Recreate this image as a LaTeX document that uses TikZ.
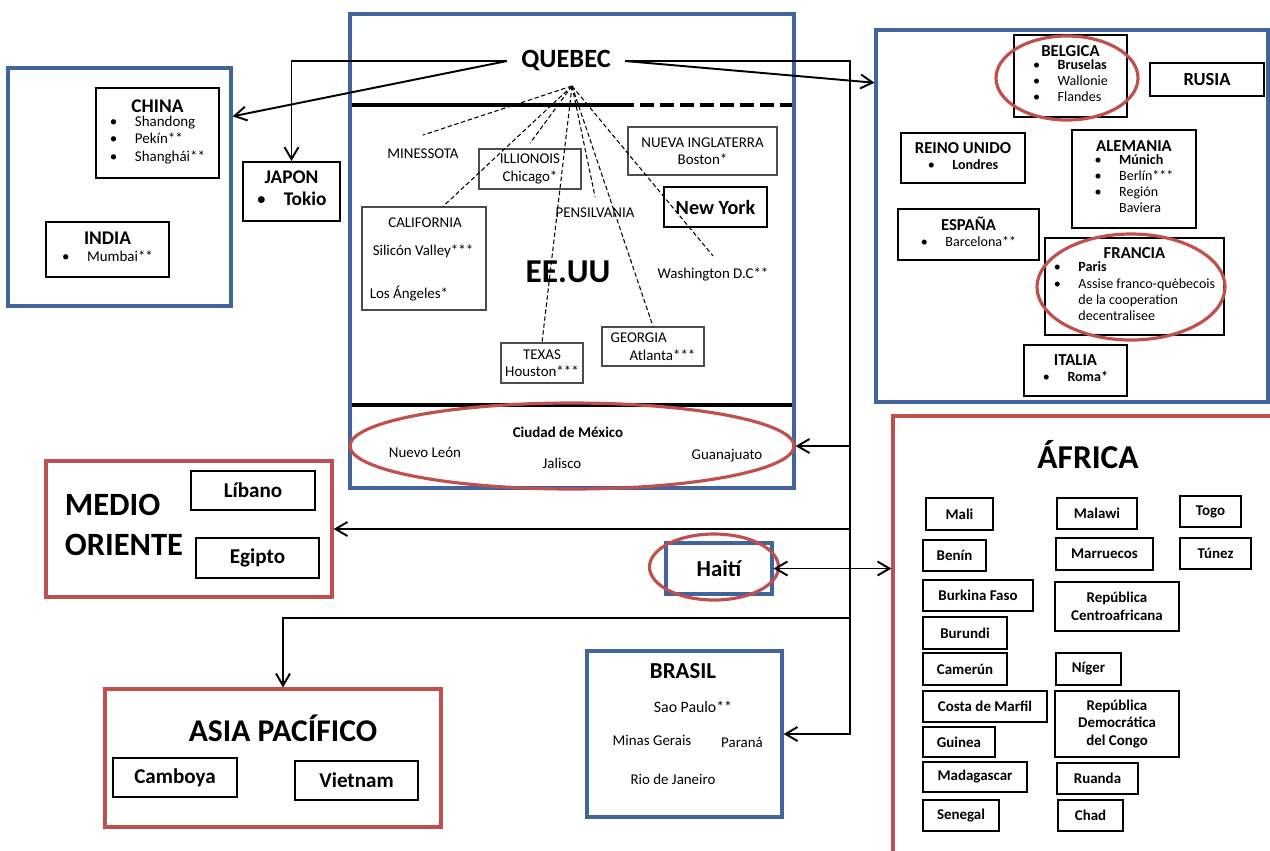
\documentclass[tikz,border=0pt]{standalone}
\usepackage{fontspec}
\setmainfont{Carlito}
\usetikzlibrary{arrows.meta, shapes.geometric}
\definecolor{regblue}{RGB}{64,100,155}
\definecolor{regred}{RGB}{192,80,77}
\newcommand{\blist}[1]{\begin{tabular}{@{}l@{\hspace{10pt}}l@{}}#1\end{tabular}}
\newcommand{\ttl}[2][10]{{\fontsize{#1}{12}\selectfont\bfseries #2}}

\begin{document}
\begin{tikzpicture}[x=0.02cm,y=-0.02cm,font=\fontsize{8.5}{10}\selectfont]
		\tikzset{sz/.style 2 args={minimum width=#1*0.02cm,minimum height=#2*0.02cm},
			bluebox/.style={draw=regblue,line width=1.8pt,inner sep=0pt},
			redbox/.style={draw=regred,line width=1.8pt,inner sep=0pt},
			cbox/.style={draw,line width=1.1pt,inner sep=0pt,align=center},
			abox/.style={cbox,font=\fontsize{8.5}{10}\selectfont\bfseries},
			eubox/.style={cbox,font=\fontsize{8}{9.2}\selectfont},
			sbox/.style={draw=black!70,line width=0.6pt,inner sep=0pt,align=center},
			ring/.style={ellipse,draw=regred,line width=1.8pt,inner sep=0pt},
			conn/.style={line width=1.1pt,-{Straight Barb[length=2.4mm,width=2.8mm]}},
			dline/.style={line width=0.6pt,dash pattern=on 2.5pt off 1.5pt},
			divider/.style={line width=2.8pt}}
		\useasboundingbox (0,0) rectangle (1270,850);
		
		% Asia
		\node[bluebox,sz={223}{238}] (asia) at (119.5,187) {};
		\node[cbox,sz={123}{90}] (china) at (157.5,133) {\ttl[11]{CHINA}\\\blist{\textbullet & Shandong\\ \textbullet & Pekín**\\ \textbullet & Shanghái**}};
		\node[cbox,sz={123}{55}] (india) at (107.5,249.5) {\ttl[11]{INDIA}\\\blist{\textbullet & Mumbai**}};
		\node[cbox,sz={97}{59},font=\fontsize{11}{13}\selectfont\bfseries] (japon) at (291.5,191.5) {JAPON\\\blist{{\mdseries\textbullet} & Tokio}};
		
		% EE.UU y Mexico
		\node[bluebox,sz={444}{474}] (eeuu) at (572,251) {};
		\node[font=\fontsize{15}{18}\selectfont\bfseries,inner xsep=0.28cm] (quebec) at (566,61) {QUEBEC};
		\coordinate (hub) at (572,86);
		\draw[divider] (352,105) -- (620,105);
		\draw[divider,dash pattern=on 0.28cm off 0.12cm] (620,105) -- (792,105);
		\draw[divider] (352,405) -- (792,405);
		\node (minn) at (423,154) {MINESSOTA};
		\node[sbox,sz={102}{40}] (ill) at (530,169) {ILLIONOIS\\Chicago*};
		\node[sbox,sz={149}{48}] (nuevaing) at (702.5,151) {NUEVA INGLATERRA\\Boston*};
		\node[sbox,draw=black,line width=0.8pt,sz={103}{40},font=\fontsize{11.5}{13}\selectfont\bfseries] (ny) at (715.5,207) {New York};
		\node[sbox,sz={124}{103}] (calif) at (424,258.5) {};
		\node (califname) at (425,223) {CALIFORNIA};
		\node (silicon) at (423,251) {Silicón Valley***};
		\node (la) at (409,294) {Los Ángeles*};
		\node (pens) at (595,213) {PENSILVANIA};
		\node[font=\fontsize{19}{22}\selectfont\bfseries] (usa) at (568,272) {EE.UU};
		\node (wash) at (713,274) {Washington D.C**};
		\node[sbox,sz={82}{40}] (texas) at (542,363) {TEXAS\\Houston***};
		\node[sbox,sz={102}{39},align=left] (georgia) at (653,346.5) {GEORGIA\\\hspace*{0.38cm}Atlanta***};
		\draw[dline] (hub) -- ([yshift=4.5pt]minn.north);
		\draw[dline] (hub) -- (calif.70);
		\draw[dline] (hub) -- ([yshift=3pt]ill.north);
		\draw[dline] (hub) -- (texas.north);
		\draw[dline] (hub) -- ([yshift=3pt]pens.north);
		\draw[dline] (hub) -- (georgia.north);
		\draw[dline] (hub) -- ([yshift=3pt]wash.north);
		\node[ring,sz={444}{86}] (mexring) at (572,446) {};
		\node[font=\fontsize{8.5}{10}\selectfont\bfseries] (cdmx) at (568,432) {Ciudad de México};
		\node (nleon) at (425,452) {Nuevo León};
		\node (jalisco) at (562,463) {Jalisco};
		\node (guanaj) at (727,456) {Guanajuato};
		
		% Europa
		\node[bluebox,sz={392}{372}] (europe) at (1072,216) {};
		\node[eubox,sz={113}{82}] (belgica) at (1070.5,76) {\ttl[9.5]{BELGICA}\\\blist{\textbullet & \textbf{Bruselas}\\ \textbullet & Wallonie\\ \textbullet & Flandes}};
		\node[eubox,sz={114}{33},font=\fontsize{10.5}{12}\selectfont\bfseries] (rusia) at (1207,79.5) {RUSIA};
		\node[eubox,sz={124}{50}] (reino) at (963,158) {\ttl[9.5]{REINO UNIDO}\\\blist{\textbullet & \textbf{Londres}}};
		\node[eubox,sz={124}{98}] (alemania) at (1134,179) {\ttl[9.5]{ALEMANIA}\\\blist{\textbullet & \textbf{Múnich}\\ \textbullet & Berlín***\\ \textbullet & Región\\ & Baviera}};
		\node[eubox,sz={141}{51}] (espana) at (968.5,234.5) {\ttl[9.5]{ESPAÑA}\\\blist{\textbullet & Barcelona**}};
		\node[eubox,sz={179}{97}] (francia) at (1134.5,286.5) {\ttl[9.5]{FRANCIA}\\\blist{\textbullet & \textbf{Paris}\\ \textbullet & Assise franco-quèbecois\\ & de la cooperation\\ & decentralisee}};
		\node[eubox,sz={103}{51}] (italia) at (1075.5,370.5) {\ttl[9.5]{ITALIA}\\\blist{\textbullet & \textbf{Roma*}}};
		\node[ring,sz={142}{84}] (belring) at (1067,78) {};
		\node[ring,sz={188}{106}] (franring) at (1131,287) {};
		
		% Medio Oriente y Asia Pacifico
		\node[redbox,sz={286}{136}] (medio) at (189,529) {};
		\node[align=left,font=\fontsize{18.5}{22.7}\selectfont\bfseries] (medtitle) at (124,525) {MEDIO\\ORIENTE};
		\node[cbox,sz={124}{39},font=\fontsize{12}{14}\selectfont\bfseries] (libano) at (253,490.5) {Líbano};
		\node[cbox,sz={123}{40},font=\fontsize{12}{14}\selectfont\bfseries] (egipto) at (257.5,558) {Egipto};
		\node[redbox,sz={336}{138}] (asiapac) at (273,758) {};
		\node[font=\fontsize{18}{21}\selectfont\bfseries] (aptitle) at (283,728) {ASIA PACÍFICO};
		\node[cbox,sz={124}{39},font=\fontsize{12}{14}\selectfont\bfseries] (camboya) at (175,777.5) {Camboya};
		\node[cbox,sz={123}{39},font=\fontsize{12}{14}\selectfont\bfseries] (vietnam) at (356.5,780.5) {Vietnam};
		
		% Haiti y Brasil
		\node[bluebox,sz={106}{51},font=\fontsize{13}{15}\selectfont\bfseries] (haiti) at (719,568.5) {Haití};
		\node[ring,sz={129}{66}] (haitiring) at (714,567) {};
		\node[bluebox,sz={195}{166}] (brasil) at (684.5,734) {};
		\node[font=\fontsize{13}{15}\selectfont\bfseries] (brasilname) at (683,671) {BRASIL};
		\node[font=\fontsize{9}{11}\selectfont] (saopaulo) at (693,707) {Sao Paulo**};
		\node (minas) at (652,740) {Minas Gerais};
		\node (parana) at (742,742) {Paraná};
		\node (rio) at (673,779) {Rio de Janeiro};
		
		% Africa
		\node[redbox,sz={394}{448}] (africa) at (1090,640) {};
		\node[font=\fontsize{19}{22}\selectfont\bfseries] (afrtitle) at (1088,455) {ÁFRICA};
		\node[abox,sz={67}{32}] (mali) at (959.5,514) {Mali};
		\node[abox,sz={63}{31}] (benin) at (954.5,555.5) {Benín};
		\node[abox,sz={110}{31}] (burkina) at (978,595.5) {Burkina Faso};
		\node[abox,sz={84}{32}] (burundi) at (965,633) {Burundi};
		\node[abox,sz={84}{32}] (camerun) at (965,669) {Camerún};
		\node[abox,sz={124}{31}] (costa) at (985,706.5) {Costa de Marfil};
		\node[abox,sz={72}{30}] (guinea) at (959,742) {Guinea};
		\node[abox,sz={104}{30}] (madag) at (975,777) {Madagascar};
		\node[abox,sz={76}{31}] (senegal) at (961,815.5) {Senegal};
		\node[abox,sz={80}{31}] (malawi) at (1097,513.5) {Malawi};
		\node[abox,sz={97}{32}] (marru) at (1104.5,554) {Marruecos};
		\node[abox,sz={124}{49}] (rca) at (1117,606.5) {República\\Centroafricana};
		\node[abox,sz={65}{32}] (niger) at (1088.5,669) {Níger};
		\node[abox,sz={124}{66}] (rdc) at (1117,724) {República\\Democrática\\del Congo};
		\node[abox,sz={81}{31}] (ruanda) at (1097.5,778.5) {Ruanda};
		\node[abox,sz={65}{31}] (chad) at (1090.5,815.5) {Chad};
		\node[abox,sz={61}{31}] (togo) at (1210.5,511.5) {Togo};
		\node[abox,sz={71}{31}] (tunez) at (1215.5,553.5) {Túnez};
		
		% conexiones
		\coordinate (spine) at (850,61);
		\draw[conn] (quebec.west) -- (asia.32);
		\draw[conn] (quebec.west) -| (japon.north);
		\draw[conn] (quebec.east) -- (europe.146);
		\draw[conn] (quebec.east) -- (spine) |- (brasil.east);
		\draw[conn] (spine |- mexring) -- (eeuu.east |- mexring);
		\draw[conn] (spine |- medio) -- (medio.east);
		\draw[conn] (spine |- 0,618) -| ([xshift=0.2cm]asiapac.north);
		\draw[conn,{Straight Barb[length=2.4mm,width=2.8mm]}-{Straight Barb[length=2.4mm,width=2.8mm]}] (haiti.east) -- (africa.west |- haiti.east);
\end{tikzpicture}
\end{document}
